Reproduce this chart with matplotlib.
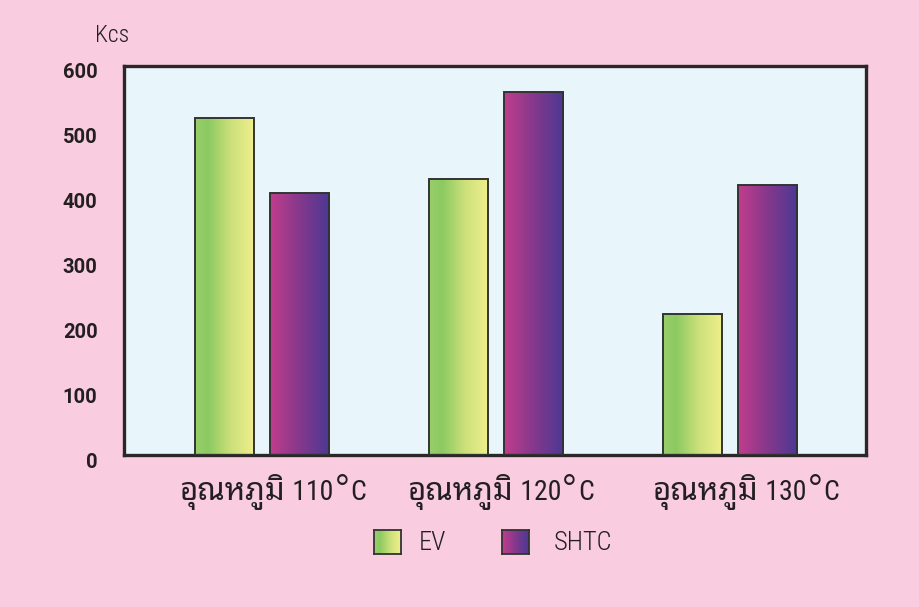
import matplotlib
matplotlib.use("Agg")
import matplotlib.pyplot as plt
import matplotlib.transforms as mtransforms
from matplotlib import font_manager as fm
from matplotlib.colors import LinearSegmentedColormap
import numpy as np

# ---- data ----
categories = ["อุณหภูมิ 110°C", "อุณหภูมิ 120°C", "อุณหภูมิ 130°C"]
series_names = ["EV", "SHTC"]
ev_values = [520, 426, 218]
shtc_values = [404, 560, 417]
y_ticks = [0, 100, 200, 300, 400, 500, 600]
y_unit = "Kcs"

# ---- fonts ----
available = {f.name for f in fm.fontManager.ttflist}
def pick(cands, default="DejaVu Sans"):
    for c in cands:
        if c in available:
            return c
    return default

thai_font = pick(["Noto Sans Thai Looped", "Sarabun", "Noto Sans Thai", "Anuphan", "Bai Jamjuree"])
cond_font = pick(["Roboto Condensed", "Liberation Sans Narrow", "Open Sans Condensed", "Arimo"])
tick_font = pick(["Roboto", "Liberation Sans", "Arimo"])
text_col = "#231F20"

# ---- colours ----
fig_bg = "#F9CCE0"
ax_bg = "#E8F6FC"
frame_col = "#2B2628"
ev_cmap = LinearSegmentedColormap.from_list(
    "ev", [(0.0, (0.60, 0.81, 0.42)), (0.22, (0.55, 0.79, 0.38)),
           (0.6, (0.80, 0.88, 0.48)), (1.0, (0.94, 0.94, 0.55))])
shtc_cmap = LinearSegmentedColormap.from_list(
    "shtc", [(0.0, (0.76, 0.24, 0.55)), (0.5, (0.52, 0.22, 0.55)),
             (1.0, (0.29, 0.22, 0.58))])
cmaps = [ev_cmap, shtc_cmap]

W, H = 920, 607
fig = plt.figure(figsize=(W / 100, H / 100), dpi=100, facecolor=fig_bg)
ax = fig.add_axes([124 / W, 1 - 455 / H, (866 - 124) / W, (455 - 66) / H])
ax.set_facecolor(ax_bg)

x = np.arange(len(categories))
width = 0.253
offsets = [-0.16, 0.16]
grad = np.linspace(0, 1, 256).reshape(1, -1)

for vals, off, cmap in zip([ev_values, shtc_values], offsets, cmaps):
    bars = ax.bar(x + off, vals, width, color="none", edgecolor="#333333",
                  linewidth=1.4, zorder=3)
    for b in bars:
        bx, by = b.get_x(), b.get_y()
        bw, bh = b.get_width(), b.get_height()
        im = ax.imshow(grad, cmap=cmap, aspect="auto",
                       extent=[bx, bx + bw, by, by + bh], zorder=2,
                       interpolation="bilinear")
        im.set_clip_path(b)

ax.set_xlim(-0.59, 2.58)
ax.set_ylim(0, 600)
ax.set_yticks(y_ticks)
ax.set_yticklabels([str(t) for t in y_ticks], fontfamily=tick_font,
                   fontsize=14.5, fontweight="bold", color=text_col)
ax.tick_params(axis="y", length=0, pad=19)
yoff = mtransforms.ScaledTranslation(0, -5 / 100, fig.dpi_scale_trans)
for lab in ax.get_yticklabels():
    lab.set_transform(lab.get_transform() + yoff)

ax.set_xticks(x)
ax.set_xticklabels([])
ax.tick_params(axis="x", length=0)

for s in ax.spines.values():
    s.set_linewidth(2.4)
    s.set_color(frame_col)

fig.text(95 / W, 1 - 35 / H, y_unit, fontfamily=cond_font, fontsize=17,
         fontweight="light", color=text_col, va="center", ha="left")

# ---- category labels (composed: Thai word + number + raised degree + C) ----
renderer = fig.canvas.get_renderer()
ident = mtransforms.IdentityTransform()
base_y = H - 500  # baseline in display pixels
label_shift = [0.047, 0.02, 0.068]  # horizontal nudge of each label (data units)
for i, cat in enumerate(categories):
    thai, rest = cat.split(" ", 1)
    num, unit = rest.split("°")
    parts = [
        (thai, dict(fontfamily=thai_font, fontsize=22.5, fontweight="bold"), 0),
        (" " + num, dict(fontfamily=cond_font, fontsize=20, fontweight="normal"), 0),
        ("°", dict(fontfamily=cond_font, fontsize=32, fontweight="light"), -6),
        (unit, dict(fontfamily=cond_font, fontsize=20, fontweight="normal"), 0),
    ]
    texts = []
    for s, props, dy in parts:
        t = fig.text(0, base_y + dy, s, transform=ident, va="baseline",
                     ha="left", color=text_col, **props)
        texts.append(t)
    widths = [t.get_window_extent(renderer).width for t in texts]
    total = sum(widths)
    cx = ax.transData.transform((x[i] + label_shift[i], 0))[0]
    cur = cx - total / 2
    for t, w in zip(texts, widths):
        t.set_x(cur)
        cur += w

# ---- legend ----
sw_pos = [374, 502]
txt_pos = [419, 554]
for name, sx, tx, cmap in zip(series_names, sw_pos, txt_pos, cmaps):
    sax = fig.add_axes([sx / W, 1 - 554 / H, 27 / W, 24 / H])
    sax.imshow(grad, cmap=cmap, aspect="auto", extent=[0, 1, 0, 1],
               interpolation="bilinear")
    sax.set_xticks([])
    sax.set_yticks([])
    for s in sax.spines.values():
        s.set_linewidth(1.3)
        s.set_color("#333333")
    fig.text(tx / W, 1 - 543 / H, name, fontfamily=cond_font, fontsize=19,
             fontweight="light", color=text_col, va="center", ha="left")

fig.savefig("out.png", dpi=100, facecolor=fig_bg)
